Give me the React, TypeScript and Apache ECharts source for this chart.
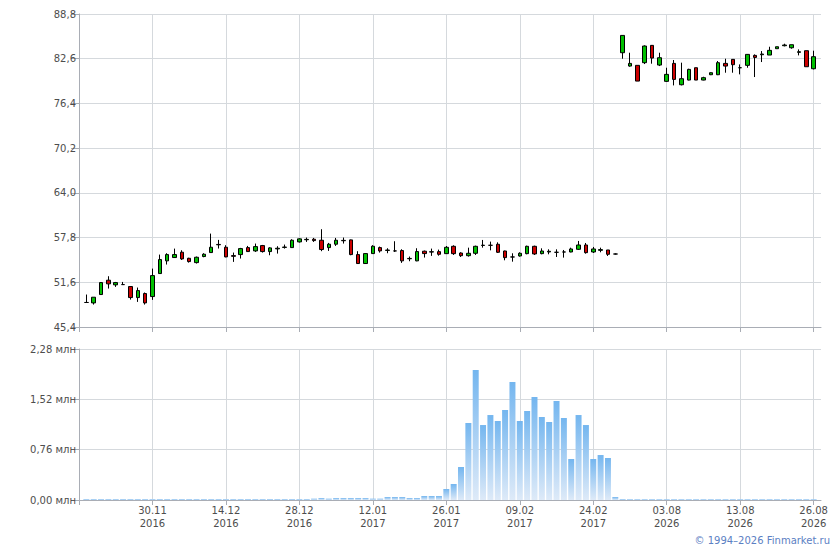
import React, { useEffect, useRef } from "react";
import * as echarts from "echarts";

const dates: string[] = [
  "17.11.2016", "18.11.2016", "21.11.2016", "22.11.2016", "23.11.2016", "24.11.2016", "25.11.2016", "28.11.2016", "29.11.2016", "30.11.2016",
  "01.12.2016", "02.12.2016", "05.12.2016", "06.12.2016", "07.12.2016", "08.12.2016", "09.12.2016", "12.12.2016", "13.12.2016", "14.12.2016",
  "15.12.2016", "16.12.2016", "19.12.2016", "20.12.2016", "21.12.2016", "22.12.2016", "23.12.2016", "26.12.2016", "27.12.2016", "28.12.2016",
  "29.12.2016", "30.12.2016", "03.01.2017", "04.01.2017", "05.01.2017", "06.01.2017", "09.01.2017", "10.01.2017", "11.01.2017", "12.01.2017",
  "13.01.2017", "16.01.2017", "17.01.2017", "18.01.2017", "19.01.2017", "20.01.2017", "23.01.2017", "24.01.2017", "25.01.2017", "26.01.2017",
  "27.01.2017", "30.01.2017", "31.01.2017", "01.02.2017", "02.02.2017", "03.02.2017", "06.02.2017", "07.02.2017", "08.02.2017", "09.02.2017",
  "10.02.2017", "13.02.2017", "14.02.2017", "15.02.2017", "16.02.2017", "17.02.2017", "20.02.2017", "21.02.2017", "22.02.2017", "24.02.2017",
  "27.02.2017", "28.02.2017", "01.03.2017", "28.07.2026", "29.07.2026", "30.07.2026", "31.07.2026", "01.08.2026", "02.08.2026", "03.08.2026",
  "04.08.2026", "05.08.2026", "06.08.2026", "07.08.2026", "08.08.2026", "09.08.2026", "10.08.2026", "11.08.2026", "12.08.2026", "13.08.2026",
  "14.08.2026", "15.08.2026", "16.08.2026", "17.08.2026", "18.08.2026", "19.08.2026", "20.08.2026", "21.08.2026", "24.08.2026", "26.08.2026",
];

const openPrices: number[] = [
  48.8, 48.74, 49.9, 51.89, 51.24, 51.28, 51.01, 49.48, 50.04, 49.62,
  52.81, 54.57, 55.03, 55.77, 54.93, 54.33, 55.17, 55.72, 56.85, 56.46,
  55.3, 55.44, 56.41, 55.95, 56.69, 55.86, 56.23, 56.44, 56.41, 57.2,
  57.5, 57.57, 57.43, 56.41, 56.88, 57.36, 57.48, 55.44, 54.2, 55.58,
  56.41, 56.02, 55.95, 56.0, 54.86, 54.57, 55.91, 55.79, 55.85, 55.57,
  56.59, 55.66, 55.29, 55.62, 56.7, 56.73, 56.87, 55.94, 55.11, 55.25,
  55.57, 56.59, 55.57, 55.8, 55.76, 55.8, 55.8, 56.17, 56.77, 55.8,
  56.03, 56.08, 55.52, 83.43, 81.58, 81.68, 82.05, 84.45, 81.72, 79.46,
  81.95, 78.99, 79.64, 81.35, 79.64, 80.38, 80.38, 81.95, 82.51, 81.35,
  81.68, 83.06, 83.15, 83.11, 83.99, 84.4, 84.12, 83.48, 83.71, 81.21,
];

const closePrices: number[] = [
  48.8, 49.53, 51.56, 51.38, 51.56, 51.28, 49.48, 50.45, 48.74, 52.53,
  54.75, 55.44, 55.44, 54.84, 54.47, 55.07, 55.49, 56.46, 56.8, 55.12,
  55.2, 56.27, 55.86, 56.55, 55.86, 56.37, 56.32, 56.48, 57.43, 57.62,
  57.55, 57.38, 56.14, 56.88, 57.43, 57.41, 55.44, 54.2, 55.58, 56.6,
  55.95, 56.07, 55.95, 54.57, 54.91, 55.86, 55.58, 55.84, 55.48, 56.45,
  55.57, 55.29, 55.62, 56.59, 56.75, 56.73, 55.76, 55.02, 55.11, 55.62,
  56.59, 55.53, 55.94, 55.9, 55.76, 55.8, 56.22, 56.77, 55.71, 56.22,
  56.13, 55.48, 55.52, 85.83, 81.95, 79.5, 84.36, 82.69, 82.74, 80.43,
  79.73, 79.83, 81.12, 79.64, 79.97, 80.66, 82.05, 81.58, 81.77, 81.35,
  83.2, 82.78, 83.25, 83.76, 84.26, 84.5, 84.54, 83.57, 81.49, 82.88,
];

const lowPrices: number[] = [
  48.75, 48.51, 49.9, 50.73, 50.96, 51.24, 49.2, 48.88, 48.51, 49.16,
  52.81, 54.06, 54.98, 54.7, 54.33, 54.2, 55.07, 55.72, 56.28, 55.07,
  54.43, 54.89, 55.81, 55.81, 55.72, 55.35, 55.58, 56.27, 56.37, 57.11,
  57.2, 57.2, 55.91, 55.95, 56.64, 56.97, 55.35, 54.15, 54.15, 55.54,
  55.72, 55.63, 55.81, 54.29, 54.52, 54.52, 55.03, 55.26, 55.29, 55.53,
  55.39, 55.11, 55.16, 55.39, 56.4, 56.03, 55.66, 54.65, 54.46, 55.16,
  55.48, 55.39, 55.48, 55.48, 55.11, 55.02, 55.76, 56.08, 55.57, 55.66,
  55.76, 55.25, 55.45, 82.6, 81.49, 79.5, 81.86, 81.91, 81.58, 79.37,
  78.9, 78.9, 79.6, 79.64, 79.6, 80.33, 80.33, 80.66, 80.66, 80.43,
  81.35, 80.06, 82.14, 83.11, 83.99, 84.31, 83.99, 83.06, 81.49, 81.12,
];

const highPrices: number[] = [
  49.9, 49.53, 51.6, 52.44, 51.65, 51.65, 51.01, 50.87, 50.18, 53.5,
  55.44, 55.63, 56.27, 56.04, 55.0, 55.17, 55.63, 58.35, 57.48, 56.74,
  55.72, 56.37, 56.64, 56.97, 56.78, 56.46, 56.6, 56.83, 57.57, 57.71,
  57.8, 57.75, 58.96, 57.06, 57.75, 57.8, 57.52, 55.91, 55.63, 56.74,
  56.55, 56.32, 57.29, 56.18, 55.17, 56.32, 56.0, 56.27, 56.13, 56.63,
  56.73, 55.76, 56.4, 56.68, 57.47, 57.24, 57.14, 55.99, 55.62, 55.76,
  56.68, 56.68, 56.31, 56.17, 56.17, 56.08, 56.4, 57.33, 57.05, 56.5,
  56.4, 56.08, 55.6, 85.83, 83.43, 81.68, 84.45, 84.5, 83.43, 81.35,
  82.42, 82.05, 81.21, 81.35, 80.1, 80.71, 82.28, 82.6, 82.56, 81.81,
  83.25, 83.2, 83.66, 84.26, 84.26, 84.68, 84.54, 83.89, 83.71, 83.71,
];

// volume, millions
const volumes: number[] = [
  0.015, 0.015, 0.015, 0.015, 0.015, 0.015, 0.015, 0.015, 0.015, 0.015,
  0.015, 0.015, 0.015, 0.015, 0.015, 0.015, 0.015, 0.015, 0.015, 0.015,
  0.015, 0.015, 0.015, 0.015, 0.015, 0.015, 0.015, 0.015, 0.015, 0.015,
  0.015, 0.02, 0.03, 0.02, 0.03, 0.03, 0.03, 0.03, 0.03, 0.02,
  0.02, 0.045, 0.045, 0.045, 0.03, 0.03, 0.06, 0.06, 0.06, 0.166,
  0.242, 0.498, 1.163, 1.963, 1.132, 1.283, 1.193, 1.359, 1.782, 1.193,
  1.344, 1.555, 1.253, 1.178, 1.495, 1.238, 0.619, 1.283, 1.132, 0.619,
  0.679, 0.634, 0.045, 0.015, 0.012, 0.012, 0.012, 0.012, 0.012, 0.012,
  0.012, 0.012, 0.012, 0.012, 0.012, 0.012, 0.012, 0.012, 0.012, 0.012,
  0.012, 0.012, 0.012, 0.012, 0.012, 0.012, 0.012, 0.012, 0.012, 0.012,
];

const priceMin = 45.4;
const priceMax = 88.8;
const priceStep = 6.2;
const volMax = 2.28;
const volStep = 0.76;

const FONT = "DejaVu Sans";
const TEXT = "#4d4d4d";
const AXIS = "#a9adb5";
const GRID = "#d5d9dd";

export default function App() {
  const ref = useRef<HTMLDivElement>(null);

  useEffect(() => {
    if (!ref.current) return;
    const chart = echarts.init(ref.current, null, { renderer: "svg" });

    // one empty category on each side of the data
    const cats = ["", ...dates, ""];
    const candles: any[] = [["-", "-", "-", "-"]];
    for (let i = 0; i < dates.length; i++) {
      candles.push([openPrices[i], closePrices[i], lowPrices[i], highPrices[i]]);
    }
    candles.push(["-", "-", "-", "-"]);
    const vols: any[] = ["-", ...volumes, "-"];

    const tickAt = (idx: number) => idx === 0 || (idx % 10 === 0 && idx >= 10 && idx <= 100);
    const labelAt = (idx: number) => idx % 10 === 0 && idx >= 10 && idx <= 100;

    const xBase = (gridIndex: number, showLabel: boolean) => ({
      type: "category",
      gridIndex,
      data: cats,
      boundaryGap: false,
      axisLine: { show: true, lineStyle: { color: AXIS, width: 1 } },
      axisTick: { show: true, interval: tickAt, length: 5, lineStyle: { color: AXIS } },
      axisLabel: {
        show: showLabel,
        interval: labelAt,
        fontFamily: FONT,
        fontSize: 10,
        color: TEXT,
        lineHeight: 13,
        margin: 4,
        formatter: (v: string) => (v ? v.slice(0, 5) + "\n" + v.slice(6) : ""),
      },
      splitLine: { show: true, interval: labelAt, lineStyle: { color: GRID, width: 1 } },
    });

    chart.setOption({
      animation: false,
      backgroundColor: "#ffffff",
      grid: [
        { left: 79, top: 14, width: 742, height: 313 },
        { left: 79, top: 349, width: 742, height: 151 },
      ],
      xAxis: [xBase(0, false), xBase(1, true)],
      yAxis: [
        {
          type: "value",
          gridIndex: 0,
          min: priceMin,
          max: priceMax,
          interval: priceStep,
          axisLine: { show: true, lineStyle: { color: AXIS } },
          axisTick: { show: true, length: 8, lineStyle: { color: AXIS } },
          axisLabel: {
            fontFamily: FONT,
            fontSize: 10,
            color: TEXT,
            margin: 3,
            formatter: (v: number) => v.toFixed(1).replace(".", ","),
          },
          splitLine: { show: true, lineStyle: { color: GRID } },
        },
        {
          type: "value",
          gridIndex: 1,
          min: 0,
          max: volMax,
          interval: volStep,
          axisLine: { show: true, lineStyle: { color: AXIS } },
          axisTick: { show: true, length: 8, lineStyle: { color: AXIS } },
          axisLabel: {
            fontFamily: FONT,
            fontSize: 10,
            color: TEXT,
            margin: 3,
            formatter: (v: number) => v.toFixed(2).replace(".", ",") + " млн",
          },
          splitLine: { show: true, lineStyle: { color: GRID } },
        },
      ],
      series: [
        {
          type: "candlestick",
          xAxisIndex: 0,
          yAxisIndex: 0,
          data: candles,
          barWidth: 4,
          itemStyle: {
            color: "#00c000",
            color0: "#cc0000",
            borderColor: "#000000",
            borderColor0: "#000000",
            borderColorDoji: "#000000",
            borderWidth: 1,
          },
        },
        {
          type: "bar",
          xAxisIndex: 1,
          yAxisIndex: 1,
          data: vols,
          barWidth: 6,
          itemStyle: {
            color: new echarts.graphic.LinearGradient(0, 0, 0, 1, [
              { offset: 0, color: "#74b6ef" },
              { offset: 1, color: "#deeaf8" },
            ]),
          },
        },
      ],
      graphic: [
        {
          type: "text",
          right: 10,
          top: 535,
          style: {
            text: "© 1994–2026 Finmarket.ru",
            fill: "#5b80c3",
            font: `10px "${FONT}"`,
          },
        },
      ],
    });

    return () => chart.dispose();
  }, []);

  return (
    <div
      ref={ref}
      style={{ position: "fixed", left: 0, top: 0, width: 840, height: 550, background: "#fff" }}
    />
  );
}
